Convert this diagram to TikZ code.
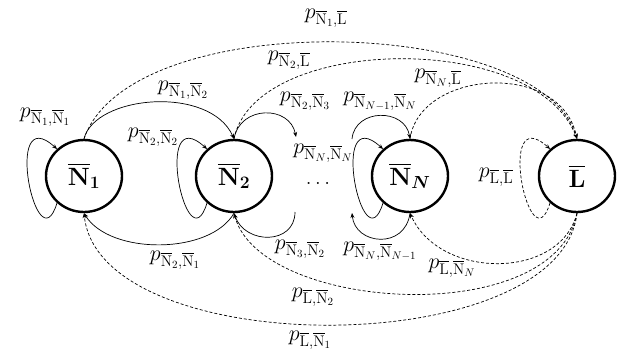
\RequirePackage{fix-cm}
\documentclass[tikz,border=0pt]{standalone}
\usepackage{amsmath,bm}
\usetikzlibrary{arrows.meta,shapes.geometric}
\newcommand{\Nb}{\overline{\mathrm{N}}}
\newcommand{\Lb}{\overline{\mathrm{L}}}
\begin{document}
\begin{tikzpicture}[x=1pt,y=-1pt,
 state/.style={ellipse,draw,line width=2.4pt,minimum width=76pt,minimum height=72pt,inner sep=0pt,font=\fontsize{25}{30}\selectfont},
 tr/.style={line width=0.7pt,-{Stealth[length=5pt,width=4pt]}},
 dtr/.style={tr,dash pattern=on 3pt off 2pt},
 lab/.style={font=\fontsize{22}{26}\selectfont,inner sep=0pt}]
\useasboundingbox (0,0) rectangle (624,354);

\node[state] (N1) at (84,176) {$\overline{\mathbf{N}}_{\mathbf{1}}$};
\node[state] (N2) at (234,176) {$\overline{\mathbf{N}}_{\mathbf{2}}$};
\node[state] (NN) at (410,176) {$\overline{\mathbf{N}}_{\bm{N}}$};
\node[state] (L) at (577,176) {$\overline{\mathbf{L}}$};
\node[font=\fontsize{21}{24}\selectfont,inner sep=0pt] (dots) at (318,183) {$\ldots$};

\coordinate (a23) at (296,137);
\coordinate (a32) at (295,212);
\coordinate (aN) at (352,139);
\coordinate (aNb) at (352,213);

% solid transitions
\draw[tr] (N1.north) .. controls (95,95) and (210,85) .. (N2.north);
\draw[tr] (N2.south) .. controls (210,255) and (110,255) .. (N1.south);
\draw[tr] (N2.north) .. controls (240,105) and (290,105) .. (a23);
\draw[tr] (a32) .. controls (295,245) and (245,245) .. (N2.south);
\draw[tr] (aN) .. controls (355,108) and (405,108) .. (NN.north);
\draw[tr] (NN.south) .. controls (405,250) and (355,245) .. (aNb);

% self loops
\draw[tr] (N1.225) .. controls +(-20,65) and +(-55,-50) .. (N1.135);
\draw[tr] (N2.225) .. controls +(-20,65) and +(-55,-50) .. (N2.135);
\draw[tr] (NN.225) .. controls +(-20,65) and +(-55,-50) .. (NN.135);
\draw[dtr] (L.225) .. controls +(-20,65) and +(-55,-50) .. (L.135);

% dashed transitions
\draw[dtr] (N1.north) .. controls (130,5) and (540,15) .. (L.north);
\draw[dtr] (N2.north) .. controls (255,35) and (535,30) .. (L.north);
\draw[dtr] (NN.north) .. controls (420,70) and (560,60) .. (L.north);
\draw[dtr] (L.south) .. controls (560,280) and (440,280) .. (NN.south);
\draw[dtr] (L.south) .. controls (555,330) and (260,312) .. (N2.south);
\draw[dtr] (L.south) .. controls (560,362) and (100,362) .. (N1.south);

% labels
\node[lab] (l1L) at (326,18) {$p_{\Nb_1,\Lb}$};
\node[lab] (l2L) at (289,60) {$p_{\Nb_2,\Lb}$};
\node[lab] (l12) at (183,90) {$p_{\Nb_1,\Nb_2}$};
\node[lab] (l11) at (45,117) {$p_{\Nb_1,\Nb_1}$};
\node[lab] (l22) at (153,137) {$p_{\Nb_2,\Nb_2}$};
\node[lab] (l23) at (305,101) {$p_{\Nb_2,\Nb_3}$};
\node[lab] (lmN) at (380,101) {$p_{\Nb_{N-1},\Nb_N}$};
\node[lab] (lNN) at (323,153) {$p_{\Nb_N,\Nb_N}$};
\node[lab] (lNL) at (438,78) {$p_{\Nb_N,\Lb}$};
\node[lab] (lLL) at (496,177) {$p_{\Lb,\Lb}$};
\node[lab] (l21) at (175,260) {$p_{\Nb_2,\Nb_1}$};
\node[lab] (l32) at (300,249) {$p_{\Nb_3,\Nb_2}$};
\node[lab] (lNm) at (380,251) {$p_{\Nb_N,\Nb_{N-1}}$};
\node[lab] (lLN) at (452,268) {$p_{\Lb,\Nb_N}$};
\node[lab] (lL2) at (313,297) {$p_{\Lb,\Nb_2}$};
\node[lab] (lL1) at (310,340) {$p_{\Lb,\Nb_1}$};
\end{tikzpicture}
\end{document}
